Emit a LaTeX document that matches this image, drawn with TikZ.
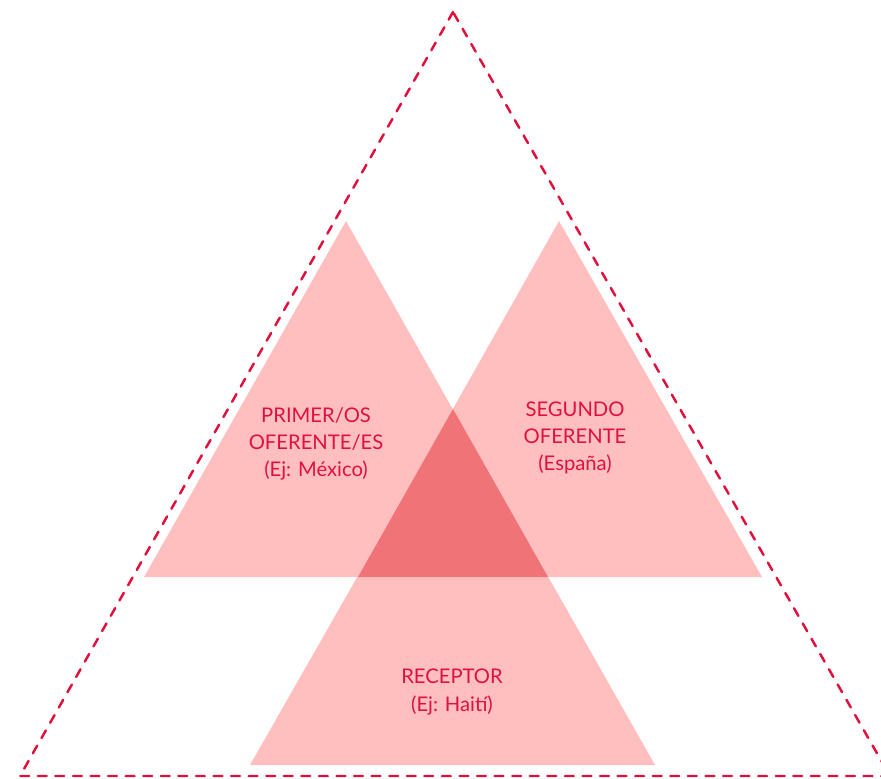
\documentclass[tikz,border=0pt]{standalone}
\usepackage{fontspec}
\setmainfont{Lato}
\usepackage{tikz}
\definecolor{rojo}{HTML}{E0103C}
\definecolor{rosa}{HTML}{FFBFBF}
\definecolor{rosaosc}{HTML}{F07377}
\tikzset{
  borde/.style={draw=rojo,line width=1.4pt,line cap=round,dash pattern=on 5 off 5},
  texto/.style={text=rojo,align=center,font=\fontsize{11.5}{15.5}\selectfont}
}

\begin{document}
\begin{tikzpicture}[x=0.02cm,y=-0.02cm]
  \useasboundingbox (0,0) rectangle (881,778);
  \fill[rosa](346,221) -- (144,577) -- (548,577) -- cycle;
  \fill[rosa](559,221) -- (358,577) -- (762,577) -- cycle;
  \fill[rosa](453,409) -- (250,765) -- (655,765) -- cycle;
  \fill[rosaosc](453,409) -- (358,577) -- (548,577) -- cycle;
  \begin{scope}
    \clip (0,0) rectangle (881,778);
    \draw[borde](453,12) -- (20,776) -- (890,776) -- cycle;
  \end{scope}
  \node[texto] (primer) at (316,444) {PRIMER/OS\\OFERENTE/ES\\(Ej: México)};
  \node[texto] (segundo) at (575,438) {SEGUNDO\\OFERENTE\\(España)};
  \node[texto] (receptor) at (452,692) {RECEPTOR\\(Ej: Haití)};
\end{tikzpicture}
\end{document}
